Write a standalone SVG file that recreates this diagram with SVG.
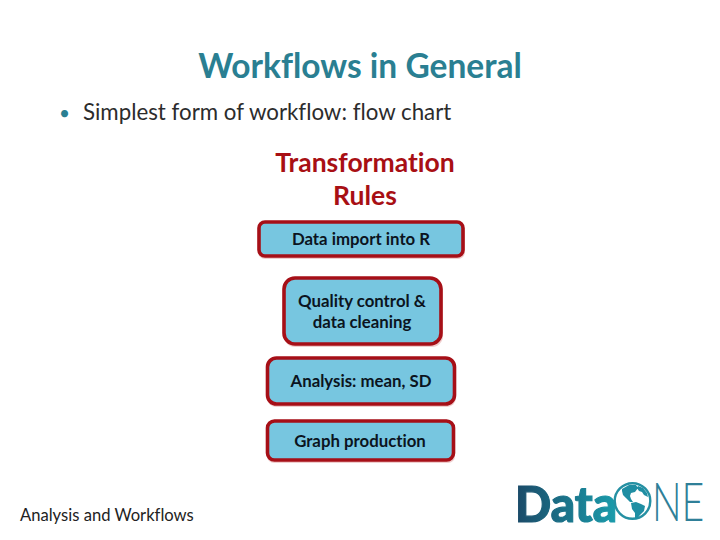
<svg xmlns="http://www.w3.org/2000/svg" width="720" height="540" viewBox="0 0 720 540">
<defs>
<linearGradient id="lg" gradientUnits="userSpaceOnUse" x1="516" y1="0" x2="620" y2="0"><stop offset="0" stop-color="#1b4a68"/><stop offset="1" stop-color="#1a9fae"/></linearGradient>
</defs>
<style>
text{font-family:Lato,Carlito,"Open Sans",sans-serif;font-variant-ligatures:none}
.t{text-anchor:middle;font-weight:700;font-size:16.800px;fill:#0b1420}
.b{fill:#77c6e0;stroke:#a60f17;stroke-width:3.6}
.s{fill:#e9b9b9;opacity:.7}
</style>
<rect width="720" height="540" fill="#fff"/>
<text x="360" y="78" text-anchor="middle" font-size="33.500" font-weight="700" fill="#2a7f92">Workflows in General</text>
<text x="59" y="120" font-size="19" fill="#2a7f92">•</text>
<text x="83" y="120" font-size="22.300" fill="#2c2c2c">Simplest form of workflow: flow chart</text>
<text x="365" y="172" text-anchor="middle" font-size="26.500" font-weight="700" fill="#a80f14">Transformation</text>
<text x="365" y="205" text-anchor="middle" font-size="26.500" font-weight="700" fill="#a80f14">Rules</text>
<g id="connectors"></g>
<g id="node1"><rect class="s" x="258" y="224" width="207" height="35" rx="7"/><rect class="b" x="259" y="222" width="204" height="34" rx="6"/><text class="t" x="361" y="245">Data import into R</text></g>
<g id="node2"><rect class="s" x="284" y="280" width="159" height="67" rx="11"/><rect class="b" x="284" y="278" width="157" height="66" rx="11"/><text class="t" x="362" y="307">Quality control &amp;</text><text class="t" x="362" y="328">data cleaning</text></g>
<g id="node3"><rect class="s" x="267" y="360" width="189" height="47" rx="9"/><rect class="b" x="267.500" y="358" width="187" height="46" rx="9"/><text class="t" x="361" y="387">Analysis: mean, SD</text></g>
<g id="node4"><rect class="s" x="267" y="423" width="188" height="40" rx="7"/><rect class="b" x="267.500" y="421" width="186" height="39" rx="7"/><text class="t" x="360" y="447">Graph production</text></g>
<text x="20" y="521" font-size="16.600" fill="#222">Analysis and Workflows</text>
<g id="logo">
<text x="515" y="522" font-size="50" font-weight="900" fill="url(#lg)" stroke="url(#lg)" stroke-width="1.200" textLength="102" lengthAdjust="spacingAndGlyphs">Data</text>
<circle cx="632.500" cy="501" r="17.800" fill="#fff" stroke="#2590a3" stroke-width="2.400"/>
<path d="M622 489l7-4 7 0 2 3-3 4-4 1-1 3 1 3 2 3-3 0-4-4-3-3-1-4zM631 503l5-1 5 2 4 2-1 5-4 4-3 4-2-1 0-5-3-4zM638 486l5 2 4 5 1 4-4-2-2-3-3-1-2-3z" fill="#1f8ea3"/>
<text transform="translate(652 521) scale(.74 1)" font-size="53" font-weight="300" fill="#2f7f98">NE</text>
</g>
</svg>
